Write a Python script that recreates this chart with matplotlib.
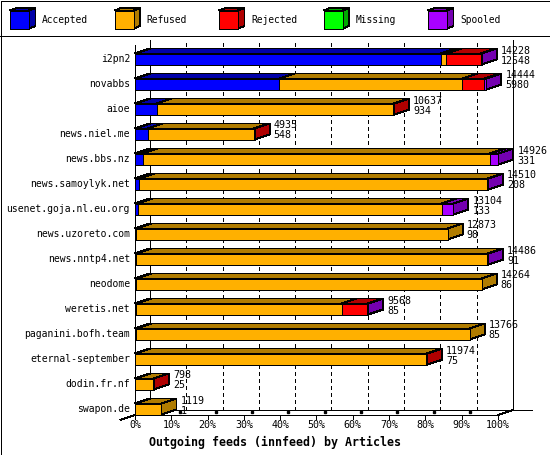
import matplotlib
matplotlib.use("Agg")
import matplotlib.pyplot as plt
from matplotlib.patches import Polygon, Rectangle

# data (percent of offered articles)
hosts = ["i2pn2", "novabbs", "aioe", "news.niel.me", "news.bbs.nz",
         "news.samoylyk.net", "usenet.goja.nl.eu.org", "news.uzoreto.com",
         "news.nntp4.net", "neodome", "weretis.net", "paganini.bofh.team",
         "eternal-september", "dodin.fr.nf", "swapon.de"]
accepted = [84.3, 39.7, 6.0, 3.5, 2.1, 1.2, 0.7, 0.4, 0.4, 0.4, 0.4, 0.3, 0.0, 0.0, 0.0]
refused = [1.4, 50.5, 65.2, 29.3, 95.7, 95.9, 83.8, 85.7, 96.7, 95.1, 56.5, 91.9, 80.3, 5.0, 7.3]
rejected = [9.6, 6.0, 0.2, 0.2, 0.0, 0.0, 0.0, 0.0, 0.0, 0.0, 7.1, 0.0, 0.2, 0.2, 0.0]
missing = [0.0] * 15
spooled = [0.2, 0.6, 0.0, 0.0, 2.3, 0.2, 3.2, 0.0, 0.2, 0.0, 0.2, 0.0, 0.0, 0.0, 0.0]
offered = [14228, 14444, 10637, 4935, 14926, 14510, 13104, 12873, 14486, 14264,
           9568, 13766, 11974, 798, 1119]
second = [12548, 5980, 934, 548, 331, 208, 133, 98, 91, 86, 85, 85, 75, 25, 1]

series_names = ["Accepted", "Refused", "Rejected", "Missing", "Spooled"]
series = [accepted, refused, rejected, missing, spooled]
fronts = ["#0000ff", "#ffb000", "#ff0000", "#00ff00", "#a800ff"]
shades = ["#0000a8", "#b07c00", "#b00000", "#00a800", "#7400b0"]
ticks = list(range(0, 101, 10))

# geometry (pixel based 3d look)
PX = 3.63          # pixels per percent
ROW = 25.0         # pixels per row
DX = 15 / PX       # depth in percent
DY = -5 / ROW      # depth in rows
H = 11 / ROW       # front face height
LW = 0.72
FONT = "DejaVu Sans Mono"

fig = plt.figure(figsize=(5.5, 4.55), dpi=100)
ax = fig.add_axes([0, 0, 1, 1])
ax.set_xlim(-135 / PX, (550 - 135) / PX)
ax.set_ylim((455 - 59) / ROW, -59 / ROW)
ax.axis("off")

n = len(hosts)
y_front = n - 1 + (415 - 409) / ROW
y_back = y_front + DY
y_top = (40 - 59) / ROW


def line(xs, ys, **kw):
    ax.plot(xs, ys, color="black", lw=LW, antialiased=False,
            solid_capstyle="butt", **kw)


# walls and floor
for t in ticks[1:-1]:
    ax.plot([t + DX, t + DX], [y_back, y_top], color="black", lw=LW,
            ls=(0, (4, 3)), antialiased=False, zorder=1)
line([DX, DX], [y_back, y_top], zorder=1)
line([100 + DX, 100 + DX], [y_back, y_top], zorder=1)
line([DX, (532 - 135) / PX], [y_back, y_back], zorder=1)
line([-DX, DX], [y_front - DY, y_back], zorder=1)
line([0, 0], [y_front, y_top - DY], zorder=1)
line([0, 100], [y_front, y_front], zorder=1)
line([100, 100 + DX], [y_front, y_back], zorder=1)
for t in ticks:
    line([t, t], [y_front, y_front + 4 / ROW], zorder=1)
    if 0 < t < 100:
        ax.plot([t + 0.55 * DX], [y_front + 0.55 * DY], marker="s", ms=2,
                color="black", zorder=1)
    ax.text(t, y_front + 10 / ROW, "%d%%" % t, ha="center", va="center",
            fontsize=7.2, family=FONT)

ax.text(140 / PX, (442 - 59) / ROW, "Outgoing feeds (innfeed) by Articles",
        ha="center", va="center", fontsize=8.4, fontweight="bold", family=FONT)

# bars
for i, host in enumerate(hosts):
    yt = i - H / 2
    yb = i + H / 2
    x0 = 0.0
    for vals, fc, sc in zip(series, fronts, shades):
        v = vals[i]
        if v <= 0:
            continue
        x1 = x0 + v
        top = [(x0, yt), (x1, yt), (x1 + DX, yt + DY), (x0 + DX, yt + DY)]
        side = [(x1, yt), (x1, yb), (x1 + DX, yb + DY), (x1 + DX, yt + DY)]
        front = [(x0, yt), (x1, yt), (x1, yb), (x0, yb)]
        for pts, c in ((top, sc), (side, sc), (front, fc)):
            ax.add_patch(Polygon(pts, closed=True, facecolor=c, edgecolor="black",
                                 lw=LW, antialiased=False, zorder=3,
                                 joinstyle="miter"))
        x0 = x1
    ax.text(-5 / PX, i, host, ha="right", va="center", fontsize=7.0, family=FONT)
    ax.text(x0 + DX + 1.1, i - 0.34, str(offered[i]), ha="left", va="center",
            fontsize=7.2, family=FONT, zorder=4)
    ax.text(x0 + DX + 1.1, i + 0.06, str(second[i]), ha="left", va="center",
            fontsize=7.2, family=FONT, zorder=4)

# legend and frame in pixel coordinates
lg = fig.add_axes([0, 0, 1, 1])
lg.set_xlim(0, 550)
lg.set_ylim(455, 0)
lg.axis("off")
lg.patch.set_alpha(0)
for k, (name, fc, sc) in enumerate(zip(series_names, fronts, shades)):
    x = 10 + k * 104.5
    top = [(x, 10.5), (x + 19, 10.5), (x + 25.5, 8), (x + 6.5, 8)]
    side = [(x + 19, 10.5), (x + 19, 28.5), (x + 25.5, 26), (x + 25.5, 8)]
    for pts, c in ((top, sc), (side, sc)):
        lg.add_patch(Polygon(pts, closed=True, facecolor=c, edgecolor="black",
                             lw=LW, antialiased=False))
    lg.add_patch(Rectangle((x, 10.5), 19, 18, facecolor=fc, edgecolor="black",
                           lw=LW, antialiased=False))
    lg.text(x + 32, 20, name, ha="left", va="center", fontsize=6.9, family=FONT)
lg.plot([0, 550], [35.5, 35.5], color="black", lw=LW, antialiased=False)
lg.add_patch(Rectangle((0.5, 0.5), 549, 454, facecolor="none", edgecolor="black",
                       lw=LW, antialiased=False))

fig.savefig("out.png", dpi=100)
